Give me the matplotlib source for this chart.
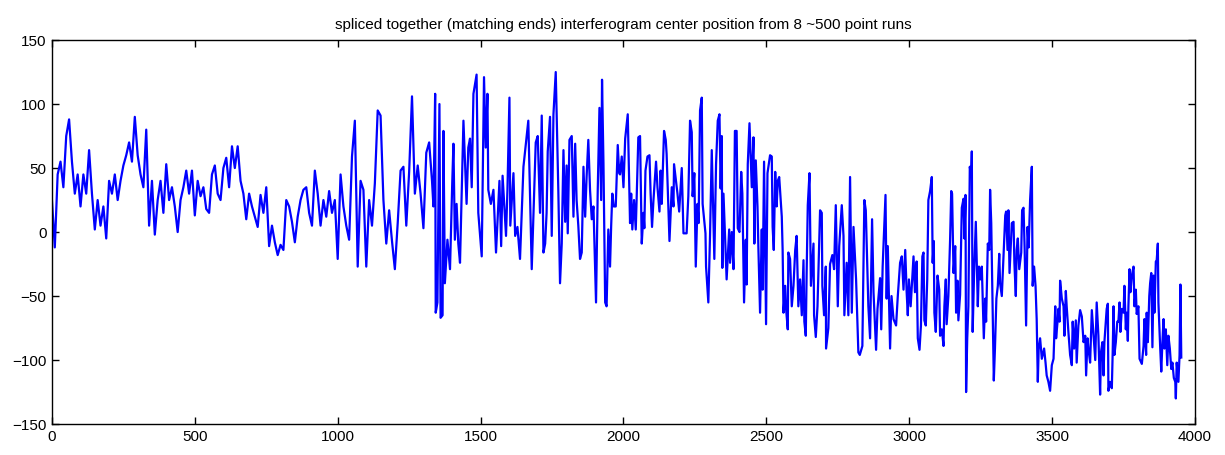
import matplotlib
matplotlib.use('Agg')
import matplotlib.pyplot as plt

plt.rcParams['font.family'] = ['Liberation Sans', 'DejaVu Sans']

# sample index and interferogram center position
sample_idx = [
    0, 10, 20, 30, 40, 50, 60, 70, 80, 90, 100, 110, 120, 130, 140, 150, 160, 170, 180, 190,
    200, 210, 220, 230, 240, 250, 260, 270, 280, 290, 300, 310, 320, 330,
    340, 350, 360, 370, 380, 390, 400, 410, 420, 430, 440, 450, 460, 470, 480, 490,
    500, 510, 520, 530, 540, 550, 560, 570, 580, 590, 600, 610, 620, 630, 640, 650, 660,
    670, 680, 690, 700, 710, 720, 730, 740, 750, 760, 770, 780, 790, 800, 810, 820, 830,
    840, 850, 860, 870, 880, 890, 900, 910, 920, 930, 940, 950, 960, 970, 980, 990,
    1000, 1010, 1020, 1030, 1040, 1050, 1060, 1070, 1080, 1090, 1100, 1110, 1120, 1130,
    1140, 1150, 1160, 1170, 1180, 1190, 1200, 1210, 1220, 1230, 1240, 1250, 1260, 1270,
    1280, 1290, 1300, 1310, 1320, 1330,
    1335, 1341, 1343, 1349, 1356, 1360, 1367, 1370, 1375, 1384, 1393, 1401, 1405, 1410,
    1416, 1422, 1428, 1440, 1451, 1457, 1463, 1469, 1475, 1486, 1492, 1504, 1512, 1518,
    1524, 1527, 1536, 1545, 1554, 1566, 1572, 1577, 1589, 1594, 1601, 1604, 1615, 1621,
    1629, 1638, 1650,
    1661, 1667, 1679, 1686, 1693, 1700, 1708, 1714, 1720, 1726, 1731, 1735, 1743, 1749,
    1755, 1763, 1772, 1778, 1784, 1790, 1796, 1801, 1805, 1811, 1819, 1825, 1831, 1836,
    1842, 1848, 1854, 1860, 1866, 1871, 1877, 1883, 1889, 1895, 1904, 1910, 1916, 1922,
    1925, 1930, 1936, 1941, 1947, 1953, 1957, 1961, 1966, 1973, 1980, 1985,
    1988, 1994, 2000, 2006, 2015, 2023, 2027, 2031, 2037, 2043, 2046, 2052, 2058, 2064,
    2070, 2073, 2077, 2084, 2091, 2095, 2100, 2105, 2114, 2119, 2126, 2130, 2134, 2142,
    2148, 2151, 2161, 2169, 2175, 2177, 2189, 2195, 2204, 2210, 2221, 2227, 2233, 2239,
    2242, 2248, 2253, 2259, 2263, 2268, 2274, 2277, 2287, 2289, 2297, 2303, 2309, 2318, 2324,
    2330, 2336, 2340, 2344, 2346, 2350, 2355, 2361, 2370, 2373, 2379, 2385, 2390, 2396,
    2400, 2406, 2412, 2416, 2422, 2428, 2431, 2435, 2441, 2445, 2449, 2455, 2458, 2463,
    2469, 2472, 2478, 2484, 2487, 2492, 2496, 2499, 2504, 2513, 2519, 2522, 2526, 2531,
    2536, 2540, 2545, 2554, 2557, 2560, 2566, 2569, 2575, 2577, 2583, 2589, 2595, 2601,
    2606, 2612, 2618, 2624, 2630, 2633, 2638, 2641, 2645, 2651,
    2656, 2665, 2667, 2673, 2679, 2688, 2694, 2696, 2702, 2708, 2709, 2717, 2723, 2731,
    2737, 2743, 2750, 2755, 2764, 2770, 2773, 2781, 2787, 2793, 2799, 2805, 2814, 2822,
    2827, 2836, 2843, 2848, 2857, 2863, 2870, 2875, 2884, 2889, 2898, 2902, 2907, 2917,
    2921, 2925, 2933, 2938, 2945, 2954, 2960, 2968, 2974, 2980,
    2986, 2991, 2995, 2999, 3005, 3015, 3020, 3026, 3030, 3036, 3041, 3046, 3050, 3053,
    3058, 3063, 3067, 3073, 3079, 3082, 3086, 3088, 3093, 3099, 3105, 3108, 3114, 3120,
    3123, 3128, 3131, 3137, 3143, 3147, 3150, 3155, 3161, 3164, 3169, 3172, 3178, 3184,
    3190, 3193, 3197, 3199, 3203, 3207, 3212, 3217, 3219, 3222, 3227, 3233, 3240, 3244,
    3249, 3254, 3261, 3266, 3269, 3275, 3280, 3283, 3287, 3291, 3296, 3300, 3305, 3310, 3315,
    3318, 3324, 3327, 3332, 3336, 3339, 3344, 3347, 3351, 3359, 3365, 3368, 3373, 3376,
    3380, 3385, 3392, 3395, 3400, 3404, 3409, 3414, 3418, 3423, 3429, 3432, 3437, 3442,
    3446, 3450, 3453, 3458, 3464, 3467, 3472, 3477, 3481, 3487, 3493, 3499, 3505, 3511,
    3514, 3519, 3522, 3526, 3528, 3534, 3540, 3543, 3548, 3551, 3557, 3563, 3569, 3572,
    3577, 3583, 3586, 3592, 3598, 3604, 3610, 3616, 3619, 3624, 3627, 3633, 3639, 3645,
    3651, 3656, 3662, 3668, 3671, 3676, 3680, 3683, 3688, 3691, 3695, 3697, 3703, 3709,
    3712, 3715, 3718, 3723, 3728, 3732, 3736, 3739, 3744, 3750, 3753, 3758, 3761, 3765,
    3767, 3771, 3774, 3779, 3785, 3788, 3793, 3796, 3802, 3806, 3814, 3820, 3823, 3829,
    3831, 3835, 3840, 3843, 3847, 3851, 3855, 3858, 3863, 3866, 3870, 3872, 3878, 3882,
    3886, 3890, 3893, 3898, 3903, 3907, 3912, 3917, 3921, 3926, 3931, 3933, 3936, 3942,
    3946, 3949, 3952,
]

center_pos = [
    25, -12, 45, 55, 35, 75, 88, 55, 30, 45, 20, 45, 30, 64, 30, 2, 25, 5, 20, -5,
    40, 30, 45, 25, 40, 52, 60, 70, 55, 90, 60, 45, 35, 80,
    5, 40, -2, 25, 40, 15, 53, 25, 35, 20, 0, 25, 35, 48, 30, 48,
    13, 40, 28, 35, 18, 15, 45, 52, 30, 25, 50, 58, 35, 67, 50, 67, 40,
    30, 10, 30, 20, 12, 4, 29, 15, 35, -11, 5, -8, -18, -10, -14, 25, 20,
    8, -8, 12, 25, 33, 35, 15, 5, 48, 30, 5, 25, 12, 32, 15, 25,
    -21, 45, 20, 5, -6, 59, 87, -27, 40, 33, -27, 25, 5, 38,
    95, 91, 25, -9, 17, -7, -29, 7, 48, 51, 5, 47, 106, 30,
    52, 30, 3, 62, 70, 40,
    20, 108, -63, -55, 100, -67, -65, 79, -40, -6, -29, 40, 69, -6,
    22, -9, -24, 87, 22, 66, 73, 35, 108, 123, 15, -19, 121, 66,
    108, 33, 22, 33, -16, 40, -11, 44, -3, 33, 105, 5, 46, -3,
    4, -21, 51,
    74, 87, -29, 20, 70, 75, 15, 91, -16, -9, 15, 63, 90, -3,
    92, 125, 33, -40, -9, 64, 8, 52, -1, 72, 75, 12, 69, 25,
    5, -21, -16, 51, 12, 43, 72, 33, 10, 20, -55, 33, 97, 25,
    119, 54, -55, -58, 2, -27, 5, 30, 20, 20, 68, 46,
    45, 59, 35, 73, 92, 7, 30, 2, 25, 2, 25, 74, 75, -9,
    15, 3, 48, 59, 60, 30, 4, 25, 55, 35, 16, 48, 22, 79,
    72, 61, -7, 35, 20, 53, 30, 16, 50, -1, -1, 28, 87, 78,
    28, 46, -27, 22, 7, 95, 105, 22, -1, -27, -55, -2, 64, -21, 53,
    87, 92, 34, 75, -28, 30, 0, -37, 2, -24, 0, -29, 79, 79,
    3, 0, 47, 30, -55, -6, -41, 53, 85, 61, 35, 74, -9, 56,
    20, -11, -63, 2, -45, 55, -16, -72, 46, 60, 59, 4, -14, 47,
    20, 40, 43, 12, -14, -63, -42, -60, -76, -16, -21, -58, -42, -14,
    -3, -58, -37, -65, -22, -70, -81, -32, 21, 46,
    -42, -9, -65, -82, -58, 17, 15, -42, -65, -27, -91, -75, -25, -18,
    -29, 21, -58, -11, 21, -3, -65, -24, -65, 43, -63, 4, -37, -94,
    -96, -89, 25, 17, -58, -83, 10, -47, -92, -60, -36, -76, -27, 29,
    -52, -11, -91, -50, -68, -73, -50, -24, -19, -45,
    -14, -47, -65, -37, -58, -19, -47, -23, -83, -92, -73, -19, -16, -69,
    -73, -37, 25, 32, 43, -24, -7, -63, -78, -34, -45, -81, -76, -89,
    -58, -37, -72, -50, -6, 32, 30, -32, -11, -63, -38, -69, -49, 19,
    26, -5, 29, -125, -83, -58, 51, 43, 63, -78, -32, 8, -58, -27,
    -37, -27, -83, -52, -70, -9, -14, 33, 7, -47, -116, -91, -52, -42, -17,
    -40, -50, -34, -9, 13, 16, -14, 17, -32, 7, 8, -24, -50, -14,
    -5, -29, -16, 17, 19, -14, -73, 4, -12, 25, 51, -42, -27, -42,
    -68, -117, -91, -83, -99, -96, -91, -102, -112, -117, -124, -104, -99, -58,
    -83, -70, -60, -70, -38, -52, -58, -81, -46, -58, -78, -96, -104, -70,
    -91, -69, -102, -73, -61, -66, -86, -81, -112, -83, -91, -102, -61, -81,
    -100, -55, -81, -127, -94, -86, -112, -86, -70, -60, -56, -124, -117, -122,
    -94, -58, -96, -86, -70, -70, -55, -78, -60, -63, -42, -76, -63, -85,
    -58, -29, -47, -34, -27, -58, -45, -64, -58, -99, -103, -89, -68, -96,
    -63, -86, -50, -40, -32, -90, -34, -63, -23, -22, -9, -55, -89, -109,
    -86, -68, -91, -76, -104, -81, -91, -107, -102, -114, -117, -130, -102, -117,
    -96, -41, -98,
]

x_ticks = [0, 500, 1000, 1500, 2000, 2500, 3000, 3500, 4000]
y_ticks = [-150, -100, -50, 0, 50, 100, 150]

fig = plt.figure(figsize=(12.25, 4.55), dpi=100, facecolor='white')
ax = fig.add_axes([0.0424, 0.068, 0.9331, 0.844])

ax.plot(sample_idx, center_pos, color='#0000ff', linewidth=1.6)

ax.set_xlim(0, 4000)
ax.set_ylim(-150, 150)
ax.set_xticks(x_ticks)
ax.set_yticks(y_ticks)
ax.tick_params(direction='in', length=5, width=1, top=True, right=True,
               labelsize=11, colors='black', pad=4)
for s in ax.spines.values():
    s.set_linewidth(1.0)
    s.set_color('black')

ax.set_title('spliced together (matching ends) interferogram center position from 8 ~500 point runs',
             fontsize=11, pad=8)

fig.savefig('out.png', dpi=100)
